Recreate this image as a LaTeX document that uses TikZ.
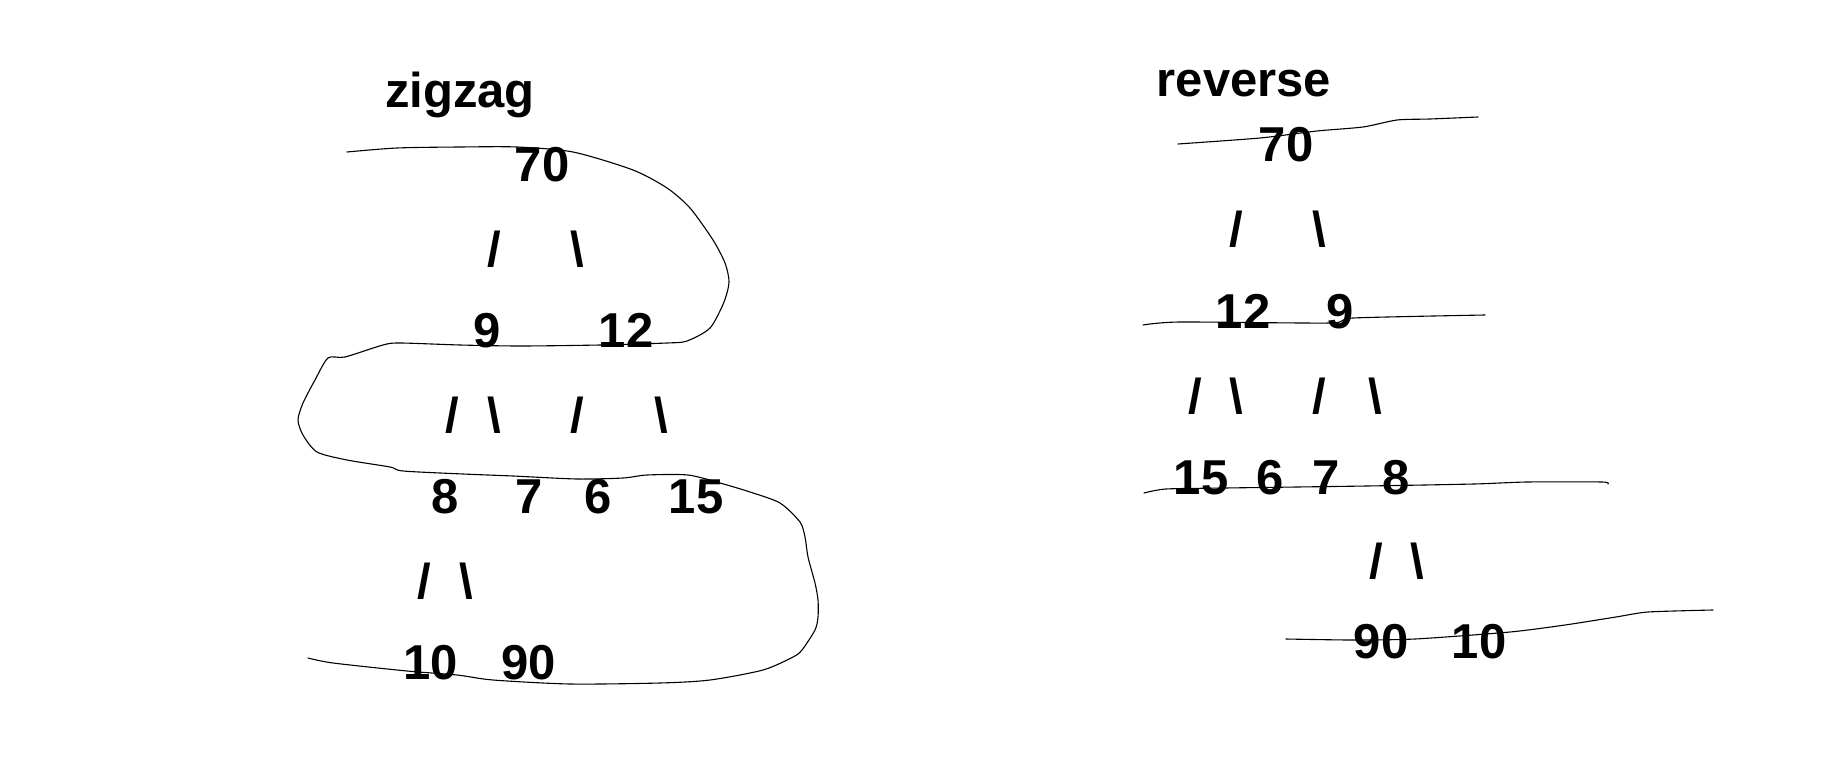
\documentclass[tikz,border=0pt]{standalone}
\usepackage{fontspec}
\setmainfont{Liberation Sans}

\begin{document}
\begin{tikzpicture}[x=0.5pt,y=-0.5pt,
  lbl/.style={anchor=base,inner sep=0pt,font=\fontsize{24.5}{29}\selectfont\bfseries},
  stroke/.style={line width=0.55pt,line join=round,line cap=round}]
\useasboundingbox (0,0) rectangle (1835,775);
% zigzag
\node[lbl] (ztitle) at (460,108) {zigzag};
\node[lbl] (z70) at (542,182) {70};
\node[lbl] (zl1) at (494,266) {/};
\node[lbl] (zr1) at (577,266) {\textbackslash};
\node[lbl] (z9) at (487,347) {9};
\node[lbl] (z12) at (626,347) {12};
\node[lbl] (zl2) at (452,432) {/};
\node[lbl] (zr2) at (494,432) {\textbackslash};
\node[lbl] (zl3) at (577,432) {/};
\node[lbl] (zr3) at (661,432) {\textbackslash};
\node[lbl] (z8) at (445,513) {8};
\node[lbl] (z7) at (529,513) {7};
\node[lbl] (z6) at (598,513) {6};
\node[lbl] (z15) at (696,513) {15};
\node[lbl] (zl4) at (424,598) {/};
\node[lbl] (zr4) at (466,598) {\textbackslash};
\node[lbl] (z10) at (431,679) {10};
\node[lbl] (z90) at (529,679) {90};
\draw[stroke] plot[smooth,tension=0.45] coordinates {
  (347,152) (397,148) (460,147) (517,147) (573,152) (633,170) (667,188)
  (690,208) (713,240) (725,263) (729,282) (724,302) (710,328) (687,341)
  (667,343) (600,345) (520,346) (460,345) (400,343) (383,345) (345,357)
  (328,358) (315,380) (303,403) (298,420) (303,435) (317,452) (347,460)
  (390,467) (403,471) (463,474) (513,476) (577,479) (623,478) (647,475)
  (688,475) (720,483) (750,492) (780,503) (800,522) (805,537) (808,557)
  (815,583) (818,600) (818,617) (815,630) (802,650) (793,657) (763,670)
  (710,680) (660,683) (570,684) (493,680) (457,675) (407,671) (333,663)
  (308,658)};

% reverse
\node[lbl] (rtitle) at (1244,97) {reverse};
\node[lbl] (r70) at (1286,162) {70};
\node[lbl] (rl1) at (1236,247) {/};
\node[lbl] (rr1) at (1319,247) {\textbackslash};
\node[lbl] (r12) at (1243,328) {12};
\node[lbl] (r9) at (1340,328) {9};
\node[lbl] (rl2) at (1195,413) {/};
\node[lbl] (rr2) at (1236,413) {\textbackslash};
\node[lbl] (rl3) at (1319,413) {/};
\node[lbl] (rr3) at (1375,413) {\textbackslash};
\node[lbl] (r15) at (1201,494) {15};
\node[lbl] (r6) at (1270,494) {6};
\node[lbl] (r7) at (1326,494) {7};
\node[lbl] (r8) at (1396,494) {8};
\node[lbl] (rl4) at (1376,578) {/};
\node[lbl] (rr4) at (1417,578) {\textbackslash};
\node[lbl] (r90) at (1381,658) {90};
\node[lbl] (r10) at (1479,658) {10};
\draw[stroke] plot[smooth,tension=0.4] coordinates {
  (1178,144) (1260,138) (1317,131) (1363,127) (1397,120) (1430,119) (1478,117)};
\draw[stroke] plot[smooth,tension=0.4] coordinates {
  (1143,325) (1180,322) (1330,323) (1353,318) (1485,315)};
\draw[stroke] plot[smooth,tension=0.4] coordinates {
  (1144,493) (1166,489) (1225,488) (1367,486) (1474,484) (1527,482) (1602,482) (1608,484)};
\draw[stroke] plot[smooth,tension=0.4] coordinates {
  (1286,639) (1351,640) (1415,639) (1510,632) (1565,625) (1616,617) (1648,612) (1713,610)};
\end{tikzpicture}
\end{document}
